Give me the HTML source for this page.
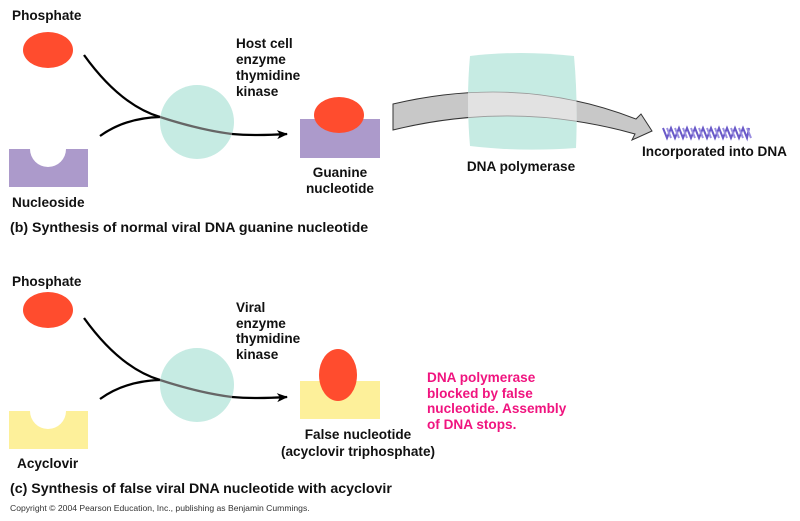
<!DOCTYPE html>
<html><head><meta charset="utf-8"><style>
html,body{margin:0;padding:0;background:#fff;}
svg{display:block;}
text{font-family:"Liberation Sans",Arial,sans-serif;font-weight:bold;font-size:13.6px;fill:#111;}
.cap{font-size:14.2px;}
</style></head><body>
<svg width="800" height="521" viewBox="0 0 800 521" xmlns="http://www.w3.org/2000/svg">
<defs>
<marker id="ah" markerWidth="11" markerHeight="9" refX="10" refY="4.5" orient="auto" markerUnits="userSpaceOnUse">
<path d="M0,0 L11,4.5 L0,9 L3,4.5 Z" fill="#000"/></marker>
<clipPath id="blobclip"><path d="M470,56 Q520,50 574,56 Q578,100 576,148 Q520,152 470,146 Q466,100 470,56 Z"/></clipPath>
</defs>

<!-- (b) -->
<text x="12" y="20">Phosphate</text>
<ellipse cx="48" cy="50" rx="25" ry="18" fill="#ff4c2e"/>
<path d="M9,149 H30 A18,18 0 0 0 66,149 H88 V187 H9 Z" fill="#ac9acb"/>
<text x="12" y="207">Nucleoside</text>
<circle cx="197" cy="122" r="37" fill="#c6ebe3"/>
<path d="M100,136 Q125,118 160,117" fill="none" stroke="#000" stroke-width="2.3"/>
<path d="M84,55 Q120,105 160,117" fill="none" stroke="#000" stroke-width="2.3"/>
<path d="M160,117 Q200,130 232,134" fill="none" stroke="#666" stroke-width="2.3"/>
<path d="M232,134 Q255,136 287,134" fill="none" stroke="#000" stroke-width="2.3" marker-end="url(#ah)"/>
<text x="236" y="48">Host cell</text>
<text x="236" y="64">enzyme</text>
<text x="236" y="80">thymidine</text>
<text x="236" y="96">kinase</text>
<rect x="300" y="119" width="80" height="39" fill="#ac9acb"/>
<ellipse cx="339" cy="115" rx="25" ry="18" fill="#ff4c2e"/>
<text x="340" y="177" text-anchor="middle">Guanine</text>
<text x="340" y="193" text-anchor="middle">nucleotide</text>
<text class="cap" x="10" y="232">(b) Synthesis of normal viral DNA guanine nucleotide</text>

<!-- big arrow -->
<g>
<path d="M393,104 Q520,74 636,119 L641,114 L652,131 L632,140 L635,134 Q515,100 393,130 Z" fill="#c8c8c8" stroke="#333" stroke-width="1"/>
<path d="M470,56 Q520,50 574,56 Q578,100 576,148 Q520,152 470,146 Q466,100 470,56 Z" fill="#c6ebe3"/>
<path d="M393,104 Q520,74 636,119 L641,114 L652,131 L632,140 L635,134 Q515,100 393,130 Z" fill="#e2e2e2" stroke="#999" stroke-width="0.8" clip-path="url(#blobclip)"/>
</g>
<text x="521" y="171" text-anchor="middle">DNA polymerase</text>
<g stroke="#6a5ac8" stroke-width="2" fill="none">
<path d="M663,128 l4,10 l4,-10 l4,10 l4,-10 l4,10 l4,-10 l4,10 l4,-10 l4,10 l4,-10 l4,10 l4,-10 l4,10 l4,-10 l4,10 l4,-10 l4,10 l4,-10 l4,10 l4,-10 l4,10 l2,-10"/>
<path d="M667,128 l4,10 M675,128 l4,10 M683,128 l4,10 M691,128 l4,10 M699,128 l4,10 M707,128 l4,10 M715,128 l4,10 M723,128 l4,10 M731,128 l4,10 M739,128 l4,10 M747,128 l4,10" stroke="#9a8ee0"/>
</g>
<text x="642" y="156">Incorporated into DNA</text>

<!-- (c) -->
<text x="12" y="286">Phosphate</text>
<ellipse cx="48" cy="310" rx="25" ry="18" fill="#ff4c2e"/>
<path d="M9,411 H30 A18,18 0 0 0 66,411 H88 V449 H9 Z" fill="#fdf09a"/>
<text x="17" y="468">Acyclovir</text>
<circle cx="197" cy="385" r="37" fill="#c6ebe3"/>
<path d="M100,399 Q125,381 160,380" fill="none" stroke="#000" stroke-width="2.3"/>
<path d="M84,318 Q120,368 160,380" fill="none" stroke="#000" stroke-width="2.3"/>
<path d="M160,380 Q200,393 232,397" fill="none" stroke="#666" stroke-width="2.3"/>
<path d="M232,397 Q255,399 287,397" fill="none" stroke="#000" stroke-width="2.3" marker-end="url(#ah)"/>
<text x="236" y="312">Viral</text>
<text x="236" y="328">enzyme</text>
<text x="236" y="343">thymidine</text>
<text x="236" y="359">kinase</text>
<rect x="300" y="381" width="80" height="38" fill="#fdf09a"/>
<ellipse cx="338" cy="375" rx="19" ry="26" fill="#ff4c2e"/>
<text x="358" y="439" text-anchor="middle">False nucleotide</text>
<text x="358" y="456" text-anchor="middle">(acyclovir triphosphate)</text>
<text x="427" y="382" style="fill:#f0147f">DNA polymerase</text>
<text x="427" y="398" style="fill:#f0147f">blocked by false</text>
<text x="427" y="413" style="fill:#f0147f">nucleotide. Assembly</text>
<text x="427" y="429" style="fill:#f0147f">of DNA stops.</text>
<text class="cap" x="10" y="493">(c) Synthesis of false viral DNA nucleotide with acyclovir</text>
<text x="10" y="511" style="font-weight:normal;font-size:8.6px;fill:#333">Copyright © 2004 Pearson Education, Inc., publishing as Benjamin Cummings.</text>
</svg>
</body></html>
